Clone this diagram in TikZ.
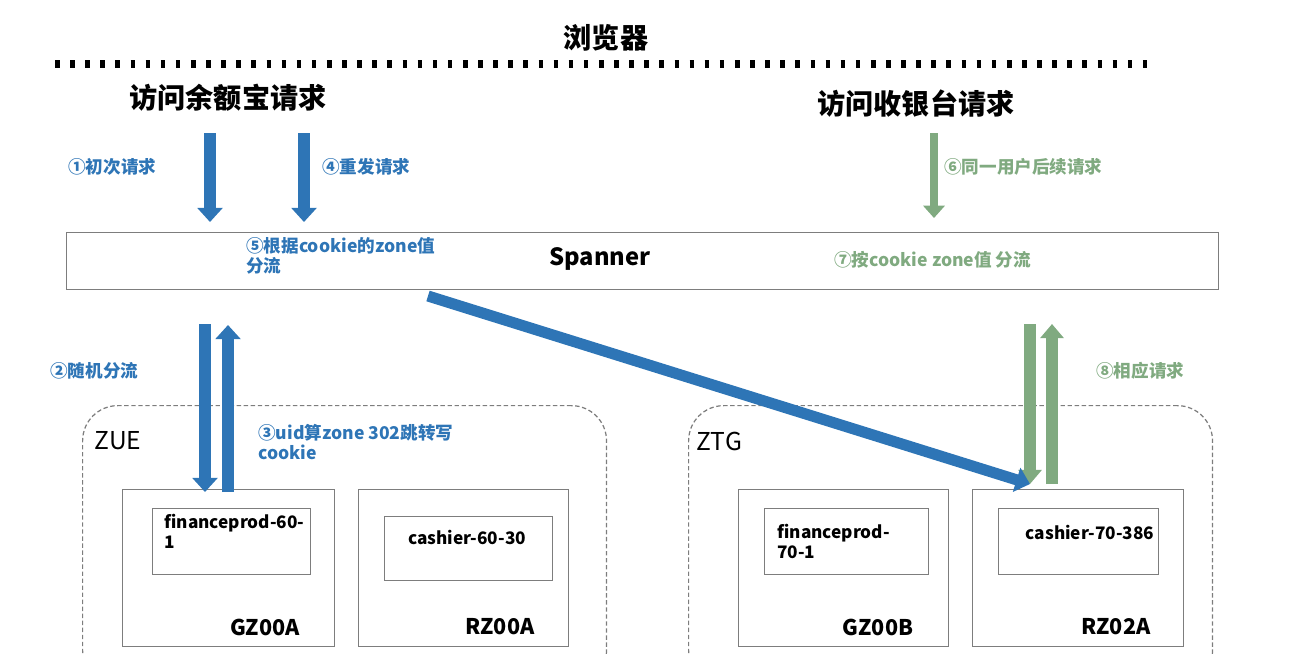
\documentclass[tikz,border=0pt]{standalone}
\usepackage{fontspec}
\setmainfont{Noto Sans CJK SC}
\usepackage{xcolor}
\usetikzlibrary{arrows.meta,positioning}
\definecolor{flowblue}{RGB}{46,117,182}
\definecolor{flowgreen}{RGB}{128,170,128}
\definecolor{boxgray}{RGB}{125,125,125}
\tikzset{
  title/.style={font=\bfseries\fontsize{16}{18}\selectfont, inner sep=0pt},
  bluelbl/.style={font=\bfseries\fontsize{10}{11.5}\selectfont, text=flowblue, anchor=west, align=left, inner sep=0pt},
  greenlbl/.style={font=\bfseries\fontsize{10}{11.5}\selectfont, text=flowgreen, anchor=west, align=left, inner sep=0pt},
  zone/.style={draw=boxgray, line width=0.7pt, dash pattern=on 2.5pt off 1.5pt, rounded corners=20pt, anchor=north west, minimum width=10.48cm, minimum height=5.6cm},
  zonelbl/.style={font=\fontsize{14}{16}\selectfont, inner sep=0pt},
  idc/.style={draw=boxgray, line width=0.8pt, anchor=north west, minimum height=3.14cm},
  app/.style={draw=boxgray, line width=0.8pt, anchor=north west, minimum height=1.32cm},
  apptxt/.style={font=\bfseries\fontsize{9.8}{11}\selectfont, anchor=north west, align=left, inner sep=0pt},
  idclbl/.style={font=\bfseries\fontsize{12.3}{14}\selectfont, inner sep=0pt},
  bluearrow/.style={flowblue, line width=6.3pt, -{Triangle[width=14pt,length=8pt]}},
  greenarrow/.style={flowgreen, line width=6.3pt, -{Triangle[width=13pt,length=8pt]}},
}

\begin{document}
\begin{tikzpicture}[x=0.02cm, y=-0.02cm]
  \useasboundingbox (0,0) rectangle (1300,654);
  \clip (0,0) rectangle (1300,654);

  % browser
  \node[title] (browser) at (606,38) {浏览器};
  \draw[line width=4.8pt, dash pattern=on 2.6pt off 6pt] (55,64) -- (1155,64);
  \node[title] (reqyeb) at (228,98) {访问余额宝请求};
  \node[title] (reqcash) at (916,104) {访问收银台请求};

  % spanner
  \node[draw=boxgray, line width=0.8pt, anchor=north west, minimum width=23.04cm, minimum height=1.14cm] (spanner) at (66,232) {};
  \node[font=\bfseries\fontsize{13.5}{15}\selectfont, inner sep=0pt] (spannerlbl) at (600,259) {Spanner};
  \node[bluelbl, anchor=north west] (lbl5) at (246,237) {⑤根据cookie的zone值\\分流};
  \node[greenlbl] (lbl7) at (834,260) {⑦按cookie zone值 分流};

  % requests from the browser
  \coordinate (a1s) at (210,133); \coordinate (a1e) at (210,222);
  \coordinate (a4s) at (304,133); \coordinate (a4e) at (304,222);
  \coordinate (a6s) at (934,133); \coordinate (a6e) at (934,218);
  \draw[bluearrow] (a1s) -- (a1e);
  \draw[bluearrow] (a4s) -- (a4e);
  \draw[greenarrow, line width=4.5pt, -{Triangle[width=12pt,length=7pt]}] (a6s) -- (a6e);
  \node[bluelbl] (lbl1) at (68,167) {①初次请求};
  \node[bluelbl] (lbl4) at (322,167) {④重发请求};
  \node[greenlbl] (lbl6) at (944,167) {⑥同一用户后续请求};

  % zones
  \node[zone] (zue) at (82,405) {};
  \node[zone] (ztg) at (688,405) {};
  \node[zonelbl] (zuelbl) at (118,441) {ZUE};
  \node[zonelbl] (ztglbl) at (719,441) {ZTG};

  % idc boxes
  \node[idc, minimum width=4.24cm] (gz00a) at (122,489) {};
  \node[idc, minimum width=4.20cm] (rz00a) at (358,489) {};
  \node[idc, minimum width=4.20cm] (gz00b) at (738,489) {};
  \node[idc, minimum width=4.22cm] (rz02a) at (972,489) {};
  \node[idclbl] (gz00albl) at (265,627) {GZ00A};
  \node[idclbl] (rz00albl) at (500,627) {RZ00A};
  \node[idclbl] (gz00blbl) at (878,627) {GZ00B};
  \node[idclbl] (rz02albl) at (1116,627) {RZ02A};

  % apps
  \node[app, minimum width=3.16cm] (fin60) at (152,508) {};
  \node[app, minimum width=3.36cm, minimum height=1.28cm] (cash60) at (384,516) {};
  \node[app, minimum width=3.28cm] (fin70) at (764,508) {};
  \node[app, minimum width=3.20cm] (cash70) at (998,508) {};
  \node[apptxt] (fin60txt) at (164,514) {financeprod-60-\\1};
  \node[apptxt, anchor=center] (cash60txt) at (467,537) {cashier-60-30};
  \node[apptxt] (fin70txt) at (777,524) {financeprod-\\70-1};
  \node[apptxt, anchor=center] (cash70txt) at (1090,532) {cashier-70-386};

  % spanner to zones
  \coordinate (a2s) at (205,324); \coordinate (a2e) at (205,492);
  \coordinate (a3s) at (228,492); \coordinate (a3e) at (228,325);
  \coordinate (a5s) at (428,296); \coordinate (a5e) at (1030,484);
  \coordinate (a7s) at (1030,324); \coordinate (a7e) at (1030,484);
  \coordinate (a8s) at (1052,484); \coordinate (a8e) at (1052,324);
  \draw[bluearrow] (a2s) -- (a2e);
  \draw[bluearrow] (a3s) -- (a3e);
  \draw[greenarrow] (a7s) -- (a7e);
  \draw[greenarrow] (a8s) -- (a8e);
  \draw[bluearrow] (a5s) -- (a5e);
  \node[bluelbl] (lbl2) at (50,371) {②随机分流};
  \node[bluelbl, anchor=north west] (lbl3) at (258,424) {③uid算zone 302跳转写\\cookie};
  \node[greenlbl] (lbl8) at (1096,371) {⑧相应请求};
\end{tikzpicture}
\end{document}
